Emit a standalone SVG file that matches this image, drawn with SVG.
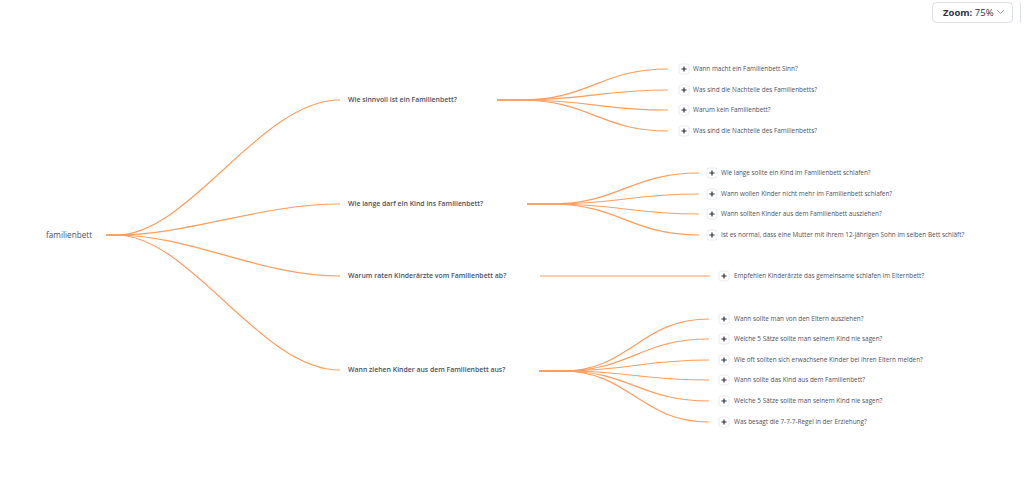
<svg xmlns="http://www.w3.org/2000/svg" width="1024" height="482" viewBox="0 0 1024 482">
<defs>
<style>
.bg{fill:#ffffff}
.c{fill:none;stroke:#fd9d5e;stroke-width:1.2}
.root{font-family:"Open Sans","Noto Sans",sans-serif;font-size:8.2px;fill:#4b5160;font-weight:500}
.l1{font-family:"Open Sans","Noto Sans",sans-serif;font-size:6.9px;fill:#4b5160;font-weight:600}
.l2{font-family:"Open Sans","Noto Sans",sans-serif;font-size:6.4px;fill:#4b5160}
.ib{fill:#ffffff;stroke:#e3e5ea;stroke-width:0.8}
.ip{stroke:#2d3138;stroke-width:1.2;fill:none}
</style>
<g id="plus">
<rect class="ib" x="-5" y="-5" width="10" height="10" rx="2.5"/>
<path class="ip" d="M-2.6,0 H2.6 M0,-2.6 V2.6"/>
</g>
</defs>
<rect class="bg" x="0" y="0" width="1024" height="482"/>
<g id="zoom-control">
<rect x="932.5" y="2.5" width="80" height="20" rx="4" fill="#fff" stroke="#dcdfe4"/>
<text x="943" y="16" font-family="'Open Sans','Noto Sans',sans-serif" font-size="9.5" fill="#2f3340"><tspan font-weight="700">Zoom:</tspan> 75%</text>
<path d="M997,10 L1000.5,13.5 L1004,10" fill="none" stroke="#9aa0ab" stroke-width="1"/>
<path d="M1020.5,2.5 V22.5" stroke="#dcdfe4"/>
</g>
<g id="connectors">
<path class="c" d="M106,235 L116,235 C190,235 260,100 340,100"/>
<path class="c" d="M106,235 L116,235 C190,235 260,204 340,204"/>
<path class="c" d="M106,235 L116,235 C190,235 260,276 340,276"/>
<path class="c" d="M106,235 L116,235 C190,235 260,370 340,370"/>
<path class="c" d="M497,100 L520,100 C590,100 600,69 668,69"/>
<path class="c" d="M497,100 L520,100 C590,100 600,90 668,90"/>
<path class="c" d="M497,100 L520,100 C590,100 600,110 668,110"/>
<path class="c" d="M497,100 L520,100 C590,100 600,131 668,131"/>
<path class="c" d="M527,204 L550,204 C620,204 630,173 699,173"/>
<path class="c" d="M527,204 L550,204 C620,204 630,194 699,194"/>
<path class="c" d="M527,204 L550,204 C620,204 630,214 699,214"/>
<path class="c" d="M527,204 L550,204 C620,204 630,235 699,235"/>
<path class="c" d="M540,276 L710,276"/>
<path class="c" d="M539,371 L562,371 C630,371 640,319 709,319"/>
<path class="c" d="M539,371 L562,371 C630,371 640,339 709,339"/>
<path class="c" d="M539,371 L562,371 C630,371 640,360 709,360"/>
<path class="c" d="M539,371 L562,371 C630,371 640,380 709,380"/>
<path class="c" d="M539,371 L562,371 C630,371 640,401 709,401"/>
<path class="c" d="M539,371 L562,371 C630,371 640,422 709,422"/>
</g>
<g id="n-root"><text class="root" x="46" y="237.9">familienbett</text></g>
<g id="n1"><text class="l1" x="348" y="102.4">Wie sinnvoll ist ein Familienbett?</text></g>
<g id="n2"><text class="l1" x="348" y="206.4">Wie lange darf ein Kind ins Familienbett?</text></g>
<g id="n3"><text class="l1" x="348" y="278.4">Warum raten Kinderärzte vom Familienbett ab?</text></g>
<g id="n4"><text class="l1" x="348" y="372.4">Wann ziehen Kinder aus dem Familienbett aus?</text></g>
<g id="n1-1"><use href="#plus" x="684" y="69"/><text class="l2" x="693" y="71.3">Wann macht ein Familienbett Sinn?</text></g>
<g id="n1-2"><use href="#plus" x="684" y="90"/><text class="l2" x="693" y="92.3">Was sind die Nachteile des Familienbetts?</text></g>
<g id="n1-3"><use href="#plus" x="684" y="110"/><text class="l2" x="693" y="112.3">Warum kein Familienbett?</text></g>
<g id="n1-4"><use href="#plus" x="684" y="131"/><text class="l2" x="693" y="133.3">Was sind die Nachteile des Familienbetts?</text></g>
<g id="n2-1"><use href="#plus" x="712" y="173"/><text class="l2" x="721" y="175.3">Wie lange sollte ein Kind im Familienbett schlafen?</text></g>
<g id="n2-2"><use href="#plus" x="712" y="194"/><text class="l2" x="721" y="196.3">Wann wollen Kinder nicht mehr im Familienbett schlafen?</text></g>
<g id="n2-3"><use href="#plus" x="712" y="214"/><text class="l2" x="721" y="216.3">Wann sollten Kinder aus dem Familienbett ausziehen?</text></g>
<g id="n2-4"><use href="#plus" x="712" y="235"/><text class="l2" x="721" y="237.3">Ist es normal, dass eine Mutter mit ihrem 12-jährigen Sohn im selben Bett schläft?</text></g>
<g id="n3-1"><use href="#plus" x="724" y="276"/><text class="l2" x="734" y="278.3">Empfehlen Kinderärzte das gemeinsame schlafen im Elternbett?</text></g>
<g id="n4-1"><use href="#plus" x="724" y="319"/><text class="l2" x="734" y="321.3">Wann sollte man von den Eltern ausziehen?</text></g>
<g id="n4-2"><use href="#plus" x="724" y="339"/><text class="l2" x="734" y="341.3">Welche 5 Sätze sollte man seinem Kind nie sagen?</text></g>
<g id="n4-3"><use href="#plus" x="724" y="360"/><text class="l2" x="734" y="362.3">Wie oft sollten sich erwachsene Kinder bei ihren Eltern melden?</text></g>
<g id="n4-4"><use href="#plus" x="724" y="380"/><text class="l2" x="734" y="382.3">Wann sollte das Kind aus dem Familienbett?</text></g>
<g id="n4-5"><use href="#plus" x="724" y="401"/><text class="l2" x="734" y="403.3">Welche 5 Sätze sollte man seinem Kind nie sagen?</text></g>
<g id="n4-6"><use href="#plus" x="724" y="422"/><text class="l2" x="734" y="424.3">Was besagt die 7-7-7-Regel in der Erziehung?</text></g>
</svg>
